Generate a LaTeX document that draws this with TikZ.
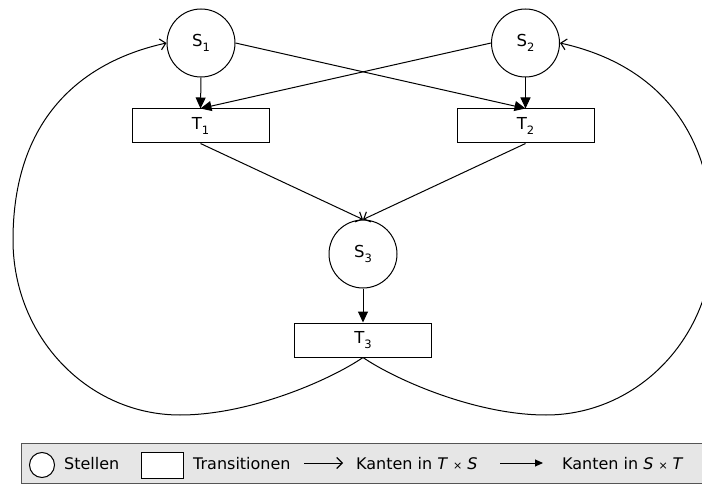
\documentclass[tikz,border=0pt]{standalone}
\usepackage{fontspec}
\setmainfont{DejaVu Sans}
\usetikzlibrary{arrows.meta}
\newcommand\subidx[1]{\raisebox{-5.5pt}{\fontsize{11.5}{11.5}\selectfont #1}}
\definecolor{legendfill}{HTML}{E6E6E6}
\definecolor{legendline}{HTML}{555555}
\tikzset{
  place/.style={circle, draw, line width=1pt, minimum size=68pt, inner sep=0pt, font=\fontsize{16.5}{19}\selectfont},
  trans/.style={rectangle, draw, line width=1pt, minimum width=137pt, minimum height=34pt, inner sep=0pt, font=\fontsize{16.5}{19}\selectfont},
  tsedge/.style={line width=1pt, -{Straight Barb[length=5.5pt,width=11pt,line width=1.1pt]}},
  stedge/.style={line width=1pt, -{Triangle[length=11pt,width=10pt]}},
  legtext/.style={anchor=base west, inner sep=0pt, font=\fontsize{16}{19}\selectfont},
}
\begin{document}
\begin{tikzpicture}[x=1pt,y=1pt]
\useasboundingbox (0,0) rectangle (702,-484);
\clip (0,0) rectangle (702,-484);
% places and transitions
\node[place] (S1) at (201,-43) {S\subidx{1}};
\node[place] (S2) at (525.5,-43) {S\subidx{2}};
\node[trans] (T1) at (200.5,-126) {T\subidx{1}};
\node[trans] (T2) at (525.5,-126) {T\subidx{2}};
\node[place] (S3) at (363,-254) {S\subidx{3}};
\node[trans] (T3) at (363,-340) {T\subidx{3}};
% S x T edges
\draw[stedge] (S1.south) -- (T1.north);
\draw[stedge] (S2.south) -- (T2.north);
\draw[stedge] (S1.east) -- (T2.north);
\draw[stedge] (S2.west) -- (T1.north);
\draw[stedge] (S3.south) -- (T3.north);
% T x S edges
\draw[tsedge] (T1.south) -- (S3.north);
\draw[tsedge] (T2.south) -- (S3.north);
\draw[tsedge] (T3.south) .. controls (330,-380) and (250,-415) .. (180,-415)
  .. controls (88,-415) and (13,-337) .. (13,-240)
  .. controls (13,-120) and (80,-62) .. (S1.west);
\draw[tsedge] (T3.south) .. controls (396,-380) and (476,-415) .. (546,-415)
  .. controls (638,-415) and (713,-337) .. (713,-240)
  .. controls (713,-120) and (646,-62) .. (S2.east);
% legend
\node[draw=legendline, fill=legendfill, line width=1pt, minimum width=700pt, minimum height=40pt, anchor=north west, inner sep=0pt] (legend) at (21,-443) {};
\node[circle, draw, fill=white, line width=1pt, minimum size=25pt, inner sep=0pt] (lplace) at (42,-465) {};
\node[legtext] (lstellen) at (64,-469) {Stellen};
\node[rectangle, draw, fill=white, line width=1pt, minimum width=42pt, minimum height=26pt, inner sep=0pt] (ltrans) at (162,-465) {};
\node[legtext] (ltranstext) at (193,-469) {Transitionen};
\coordinate (la1) at (304,-463);
\coordinate (la2) at (343,-463);
\draw[tsedge] (la1) -- (la2);
\node[legtext] (lts) at (356,-469) {Kanten in \textit{T}\hspace{5pt}{\fontsize{11}{11}\selectfont ×}\hspace{5pt}\textit{S}};
\coordinate (lb1) at (500,-463);
\coordinate (lb2) at (543,-463);
\draw[line width=1pt, -{Triangle[length=8pt,width=7pt]}] (lb1) -- (lb2);
\node[legtext] (lst) at (562,-469) {Kanten in \textit{S}\hspace{5pt}{\fontsize{11}{11}\selectfont ×}\hspace{5pt}\textit{T}};
\end{tikzpicture}
\end{document}
